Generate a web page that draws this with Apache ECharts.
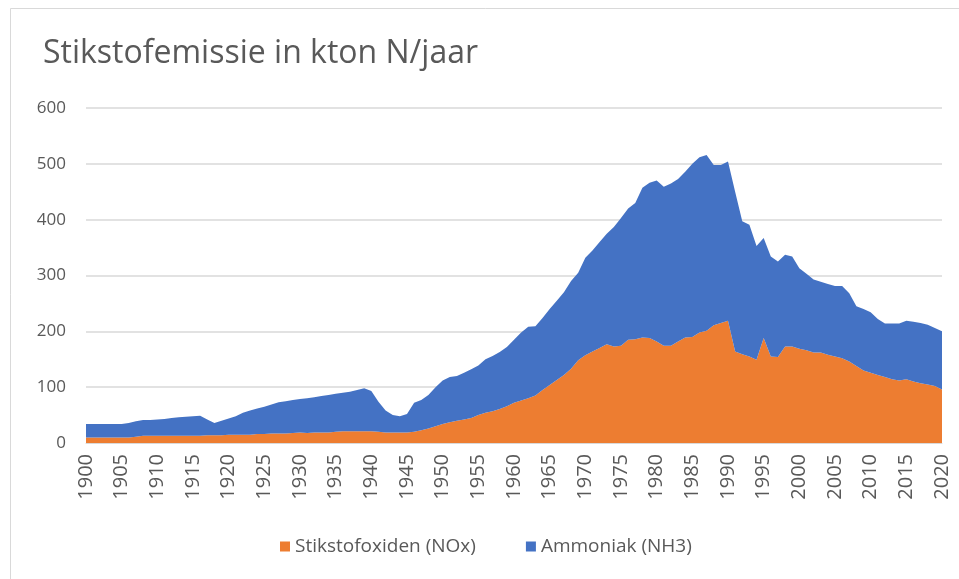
<!DOCTYPE html>
<html>
<head>
<meta charset="utf-8">
<title>Stikstofemissie</title>
<script src="https://cdn.jsdelivr.net/npm/echarts@6/dist/echarts.min.js"></script>
<style>
html,body{margin:0;padding:0;background:#fff;}
#chart{width:959px;height:579px;}
</style>
</head>
<body>
<div id="chart"></div>
<script>
var years = ['1900','1901','1902','1903','1904','1905','1906','1907','1908','1909',
	'1910','1911','1912','1913','1914','1915','1916','1917','1918','1919',
	'1920','1921','1922','1923','1924','1925','1926','1927','1928','1929',
	'1930','1931','1932','1933','1934','1935','1936','1937','1938','1939',
	'1940','1941','1942','1943','1944','1945','1946','1947','1948','1949',
	'1950','1951','1952','1953','1954','1955','1956','1957','1958','1959',
	'1960','1961','1962','1963','1964','1965','1966','1967','1968','1969',
	'1970','1971','1972','1973','1974','1975','1976','1977','1978','1979',
	'1980','1981','1982','1983','1984','1985','1986','1987','1988','1989',
	'1990','1991','1992','1993','1994','1995','1996','1997','1998','1999',
	'2000','2001','2002','2003','2004','2005','2006','2007','2008','2009',
	'2010','2011','2012','2013','2014','2015','2016','2017','2018','2019','2020'];

//Stikstofoxiden (NOx), kton N
var noxData = [10,10,10,10,10,10,10,11,13,13,
	13,13,13,13,13,13,13,14,14,14,
	15,15,15,15,16,16,17,17,17,18,
	19,18,19,19,19,20,21,21,21,21,
	21,20,19,19,19,19,20,23,26,30,
	34,37,40,42,45,50,54,57,61,66,
	72,76,80,85,95,104,113,122,133,148,
	157,164,170,177,173,174,185,186,189,188,
	182,174,174,182,189,190,198,201,211,215,
	219,164,159,155,149,188,155,154,173,173,
	169,166,162,162,158,155,152,146,138,130,
	126,122,118,114,112,114,110,107,105,102,96];

//Ammoniak (NH3), kton N
var nh3Data = [24,24,24,24,24,24,26,28,28,28,
	29,30,32,33,34,35,36,28,22,26,
	29,33,39,43,46,49,52,56,58,59,
	60,62,63,65,67,68,69,71,74,77,
	72,54,39,31,29,33,52,54,60,70,
	78,81,80,84,87,89,96,99,102,106,
	113,122,128,124,129,136,142,148,157,157,
	175,181,190,198,214,229,235,244,268,278,
	288,285,291,291,297,310,314,315,287,283,
	285,286,238,236,204,179,179,171,164,161,
	144,137,131,127,127,126,129,122,107,110,
	108,100,96,100,102,105,107,108,107,104,104];

var textColor = '#595959';
var fontName = '"Open Sans", "Noto Sans", sans-serif';

var myChart = echarts.init(document.getElementById('chart'));
var option = {
	backgroundColor: '#fff',
	animation: false,
	title: {
		text: 'Stikstofemissie in kton N/jaar',
		left: 38,
		top: 33,
		textStyle: {color: textColor, fontSize: 32, fontWeight: 'normal', fontFamily: fontName}
	},
	graphic: [{
		type: 'rect',//外框
		shape: {x: 10.5, y: 8.5, width: 960, height: 580},
		style: {fill: 'none', stroke: '#d9d9d9', lineWidth: 1},
		silent: true
	}],
	legend: {
		bottom: 18,
		left: 275,
		itemWidth: 10,
		itemHeight: 10,
		itemGap: 50,
		icon: 'rect',
		textStyle: {color: textColor, fontSize: 19, fontFamily: fontName},
		data: ['Stikstofoxiden (NOx)', 'Ammoniak (NH3)']
	},
	grid: {left: 86, right: 17, top: 108, bottom: 136, containLabel: false},
	xAxis: {
		type: 'category',
		data: years,
		boundaryGap: false,
		axisLine: {lineStyle: {color: '#d9d9d9', width: 1}},
		axisTick: {show: false},
		axisLabel: {
			interval: 4,
			rotate: 90,
			margin: 11,
			color: textColor,
			fontSize: 20,
			fontFamily: fontName
		}
	},
	yAxis: {
		type: 'value',
		min: 0,
		max: 600,
		interval: 100,
		axisLine: {show: false},
		axisTick: {show: false},
		splitLine: {lineStyle: {color: '#d9d9d9', width: 1.5}},
		axisLabel: {margin: 20, color: textColor, fontSize: 17, fontFamily: fontName}
	},
	series: [{
		name: 'Stikstofoxiden (NOx)',
		type: 'line',
		stack: 'totaal',
		data: noxData,
		symbol: 'none',
		lineStyle: {width: 0},
		itemStyle: {color: '#ed7d31'},
		areaStyle: {color: '#ed7d31', opacity: 1}
	}, {
		name: 'Ammoniak (NH3)',
		type: 'line',
		stack: 'totaal',
		data: nh3Data,
		symbol: 'none',
		lineStyle: {width: 0},
		itemStyle: {color: '#4472c4'},
		areaStyle: {color: '#4472c4', opacity: 1}
	}]
};
myChart.setOption(option);
</script>
</body>
</html>
